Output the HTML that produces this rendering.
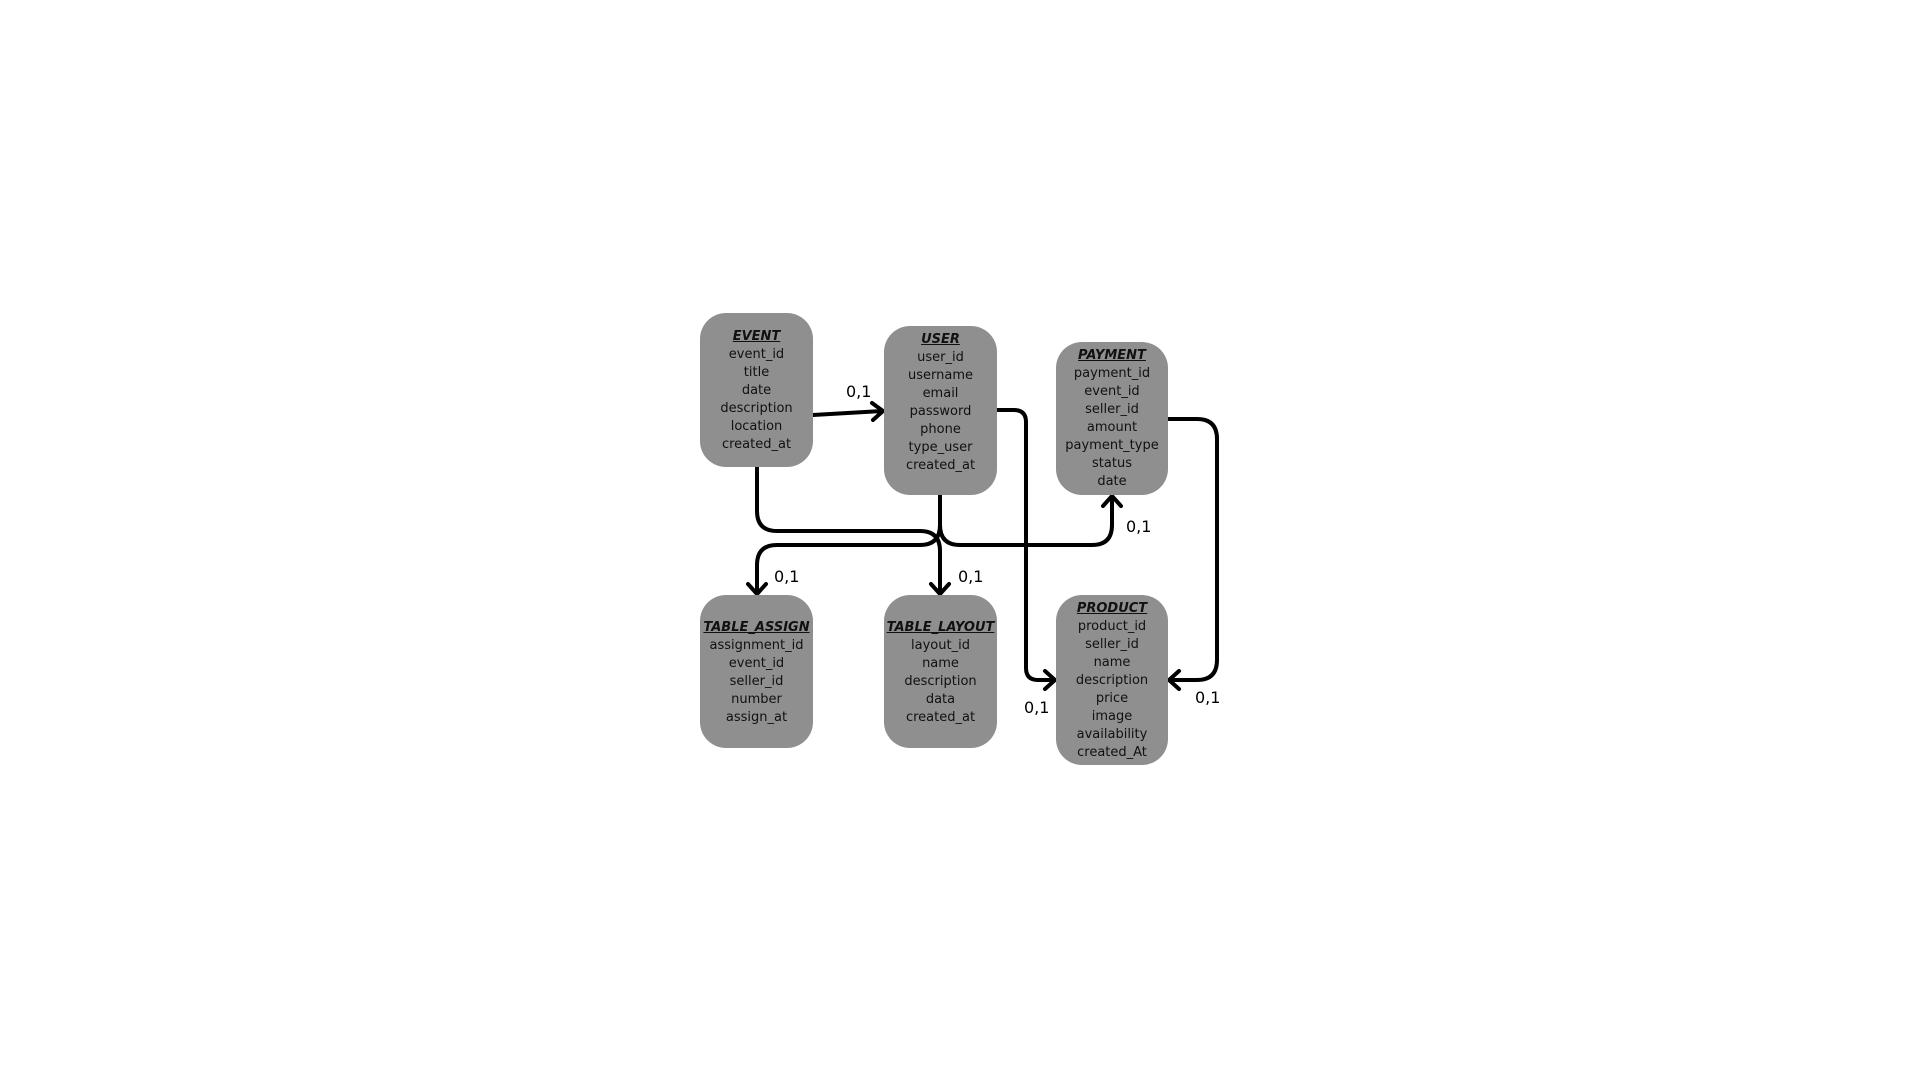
<!DOCTYPE html>
<html><head><style>
html,body{margin:0;padding:0;background:#fff;}
.b{position:absolute;background:#8f8f8f;border-radius:26px;font-family:"DejaVu Sans","Liberation Sans",sans-serif;font-size:13px;color:#111;text-align:center;line-height:18px;box-sizing:border-box;}
.b b{font-style:italic;text-decoration:underline;display:block;}
.l{position:absolute;font-family:"DejaVu Sans","Liberation Sans",sans-serif;font-size:16px;color:#000;}
</style></head><body>
<div style="position:relative;width:1920px;height:1080px;overflow:hidden">
<svg width="1920" height="1080" style="position:absolute;left:0;top:0" fill="none" stroke="#000" stroke-width="4" stroke-linecap="round" stroke-linejoin="round">
<path d="M813 415 L882 411"/><path d="M872 403 L883 411 L873 420"/>
<path d="M757 467 V511 Q757 531 777 531 H920 Q940 531 940 551 V593"/><path d="M931 584 L940 594 L949 584"/>
<path d="M940 495 V525 Q940 545 920 545 H777 Q757 545 757 565 V593"/><path d="M748 584 L757 594 L766 584"/>
<path d="M940 525 Q940 545 960 545 H1092 Q1112 545 1112 525 V497"/><path d="M1103 506 L1112 496 L1121 506"/>
<path d="M997 410 H1014 Q1026 410 1026 422 V668 Q1026 680 1038 680 H1054"/><path d="M1045 671 L1055 680 L1045 689"/>
<path d="M1168 419 H1197 Q1217 419 1217 439 V660 Q1217 680 1197 680 H1170"/><path d="M1179 671 L1169 680 L1179 689"/>
</svg>
<div class="b" style="left:700px;top:313px;width:113px;height:154px;padding-top:15px"><b>EVENT</b>event_id<br>title<br>date<br>description<br>location<br>created_at</div>
<div class="b" style="left:884px;top:326px;width:113px;height:169px;padding-top:5px"><b>USER</b>user_id<br>username<br>email<br>password<br>phone<br>type_user<br>created_at</div>
<div class="b" style="left:1056px;top:342px;width:112px;height:153px;padding-top:5px"><b>PAYMENT</b>payment_id<br>event_id<br>seller_id<br>amount<br>payment_type<br>status<br>date</div>
<div class="b" style="left:700px;top:595px;width:113px;height:153px;padding-top:24px"><b>TABLE_ASSIGN</b>assignment_id<br>event_id<br>seller_id<br>number<br>assign_at</div>
<div class="b" style="left:884px;top:595px;width:113px;height:153px;padding-top:24px"><b>TABLE_LAYOUT</b>layout_id<br>name<br>description<br>data<br>created_at</div>
<div class="b" style="left:1056px;top:595px;width:112px;height:170px;padding-top:5px"><b>PRODUCT</b>product_id<br>seller_id<br>name<br>description<br>price<br>image<br>availability<br>created_At</div>
<div class="l" style="left:846px;top:382px">0,1</div>
<div class="l" style="left:774px;top:567px">0,1</div>
<div class="l" style="left:958px;top:567px">0,1</div>
<div class="l" style="left:1126px;top:517px">0,1</div>
<div class="l" style="left:1024px;top:698px">0,1</div>
<div class="l" style="left:1195px;top:688px">0,1</div>
</div>
</body></html>
